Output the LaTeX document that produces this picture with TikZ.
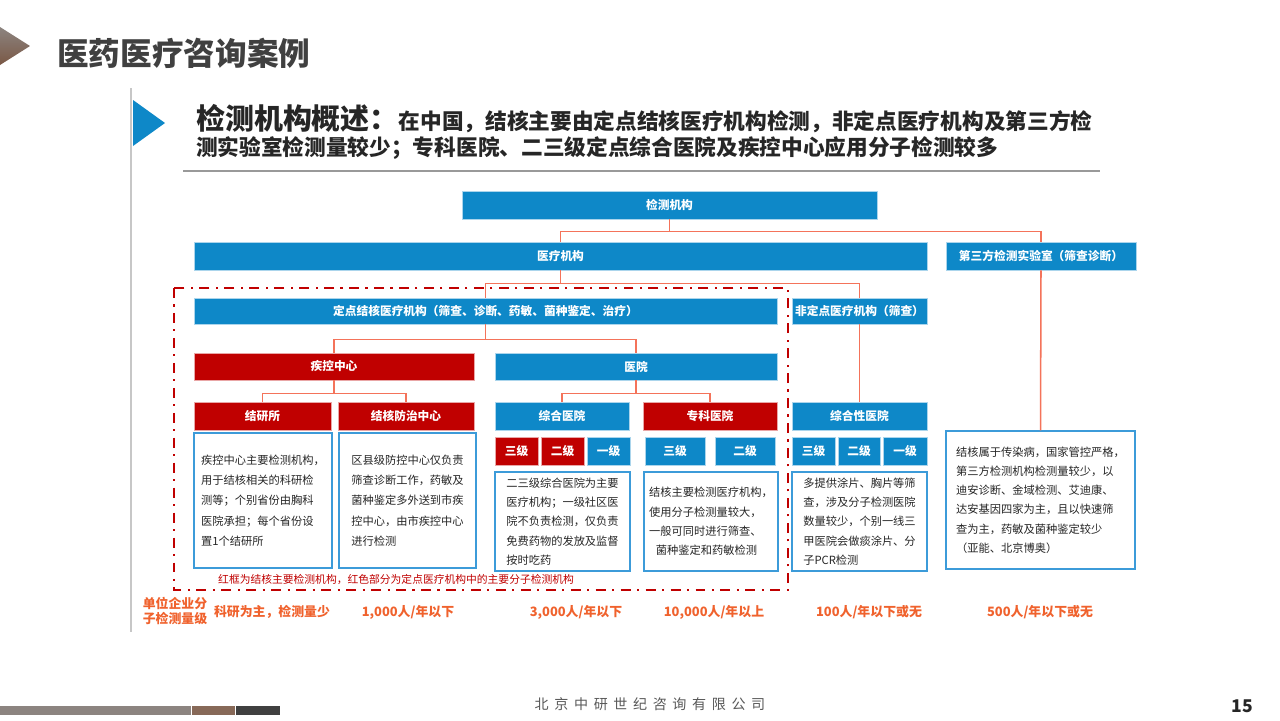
\documentclass[tikz,border=0pt]{standalone}
\usepackage{fontspec}
\setmainfont{Noto Sans CJK SC}
\newfontfamily\footfont{Noto Sans CJK SC}[LetterSpace=40]
\usepackage{xcolor}
\usepackage{tikz}

\definecolor{tbblue}{HTML}{0E88C8}
\definecolor{tbred}{HTML}{C00000}
\definecolor{linkred}{HTML}{F4735A}
\definecolor{qtyorange}{HTML}{F0622D}
\definecolor{txtgray}{HTML}{262626}
\definecolor{frameblue}{HTML}{3C9BD9}
\definecolor{chevgray}{HTML}{8C8480}
\definecolor{chevbrown}{HTML}{7A5845}

\newcommand\pxw{0.03cm}

\begin{document}
\begin{tikzpicture}[x=0.03cm, y=-0.03cm,
    sz/.style 2 args={minimum width=#1*\pxw, minimum height=#2*\pxw},
    box/.style={fill=tbblue, draw=white!65!tbblue, line width=0.6pt, inner sep=0pt, text=white, font=\bfseries\fontsize{10}{12}\selectfont},
    redbox/.style={box, fill=tbred, draw=white!65!tbred},
    textbox/.style={draw=frameblue, line width=1.1pt, inner sep=0pt, align=left, text=txtgray, font=\fontsize{9.6}{16.4}\selectfont},
    link/.style={draw=linkred, line width=1.3pt},
    qty/.style={text=qtyorange, font=\bfseries\fontsize{11}{13}\selectfont},
    redframe/.style={draw=tbred, line width=2.1pt, dash pattern=on 8.5pt off 5.5pt on 1.8pt off 5.5pt}
]
\fill[white] (0,0) rectangle (1280,720);
\useasboundingbox (0,0) rectangle (1280,720);

% page header
\shade[top color=chevgray, bottom color=chevbrown] (0,27) -- (30,46) -- (0,65) -- cycle;
\node[anchor=west, inner sep=0pt, text=black!75, font=\bfseries\fontsize{27}{30}\selectfont] (title) at (57,53) {医药医疗咨询案例};
\draw[black!22, line width=1pt] (131,88) -- (131,632);
\fill[tbblue] (133,100) -- (165,123) -- (133,146) -- cycle;
\node[anchor=west, inner sep=0pt, text=txtgray, font=\bfseries] (head1) at (196,119)
  {{\fontsize{24.7}{28}\selectfont 检测机构概述：}{\fontsize{18.5}{22}\selectfont 在中国，结核主要由定点结核医疗机构检测，非定点医疗机构及第三方检}};
\node[anchor=west, inner sep=0pt, text=txtgray, font=\bfseries\fontsize{18.5}{22}\selectfont] (head2) at (196,148)
  {测实验室检测量较少；专科医院、二三级定点综合医院及疾控中心应用分子检测较多};
\draw[black!40, line width=1.2pt] (183,171) -- (1100,171);

% tree boxes
\node[box, sz={415}{28}] (jcjg) at (669.5,205) {检测机构};
\node[box, sz={733}{28}] (yljg) at (560.5,256) {医疗机构};
\node[box, sz={190}{28}] (dsf) at (1041,256) {第三方检测实验室（筛查诊断）};
\node[box, sz={583}{26}] (ddjg) at (485.5,311) {定点结核医疗机构（筛查、诊断、药敏、菌种鉴定、治疗）};
\node[box, sz={135}{26}] (fddjg) at (859.5,311) {非定点医疗机构（筛查）};
\node[redbox, sz={280}{27}] (jkzx) at (334,366.5) {疾控中心};
\node[box, sz={282}{27}] (yy) at (636,366.5) {医院};
\node[redbox, sz={137}{28}] (jys) at (262.5,416) {结研所};
\node[redbox, sz={136}{28}] (jhfz) at (406,416) {结核防治中心};
\node[box, sz={134}{28}] (zhyy) at (562,416) {综合医院};
\node[redbox, sz={134}{28}] (zkyy) at (710,416) {专科医院};
\node[box, sz={135}{28}] (zhxyy) at (859.5,416) {综合性医院};

% hospital levels
\node[redbox, sz={43}{28}] (zh3) at (516.5,451) {三级};
\node[redbox, sz={43}{28}] (zh2) at (562.5,451) {二级};
\node[box, sz={43}{28}] (zh1) at (608.5,451) {一级};
\node[box, sz={60}{28}] (zk3) at (675,451) {三级};
\node[box, sz={60}{28}] (zk2) at (745,451) {二级};
\node[box, sz={43}{28}] (zx3) at (813.5,451) {三级};
\node[box, sz={42}{28}] (zx2) at (859,451) {二级};
\node[box, sz={44}{28}] (zx1) at (905,451) {一级};

% descriptions
\node[textbox, sz={138}{135}, font=\fontsize{9.6}{17.4}\selectfont] (tjys) at (263,500.5)
  {疾控中心主要检测机构，\\用于结核相关的科研检\\测等；个别省份由胸科\\医院承担；每个省份设\\置1个结研所};
\node[textbox, sz={137}{135}, font=\fontsize{9.6}{17.4}\selectfont] (tjhfz) at (407.5,500.5)
  {区县级防控中心仅负责\\筛查诊断工作，药敏及\\菌种鉴定多外送到市疾\\控中心，由市疾控中心\\进行检测};
\node[textbox, sz={135}{99}] (tzhyy) at (562.5,521.5)
  {二三级综合医院为主要\\医疗机构；一级社区医\\院不负责检测，仅负责\\免费药物的发放及监督\\按时吃药};
\node[textbox, sz={134}{99}] (tzkyy) at (711,521.5)
  {结核主要检测医疗机构，\\使用分子检测量较大，\\一般可同时进行筛查、\\\hspace*{0.6em}菌种鉴定和药敏检测};
\node[textbox, sz={135}{99}] (tzhxyy) at (859.5,521.5)
  {多提供涂片、胸片等筛\\查，涉及分子检测医院\\数量较少，个别一线三\\甲医院会做痰涂片、分\\子PCR检测};
\node[textbox, sz={189}{138}] (tdsf) at (1040.5,500)
  {结核属于传染病，国家管控严格，\\第三方检测机构检测量较少，以\\迪安诊断、金域检测、艾迪康、\\达安基因四家为主，且以快速筛\\查为主，药敏及菌种鉴定较少\\（亚能、北京博奥）};

% connectors
\draw[link] (jcjg.south) -- ++(0,12) -| (yljg.north);
\draw[link] (jcjg.south) -- ++(0,12) -| (dsf.north);
\draw[link] (yljg.south) -- ++(0,13) -| (ddjg.north);
\draw[link] (yljg.south) -- ++(0,13) -| (fddjg.north);
\draw[link] (ddjg.south) -- ++(0,15) -| (jkzx.north);
\draw[link] (ddjg.south) -- ++(0,15) -| (yy.north);
\draw[link] (jkzx.south) -- ++(0,13) -| (jys.north);
\draw[link] (jkzx.south) -- ++(0,13) -| (jhfz.north);
\draw[link] (yy.south) -- ++(0,13) -| (zhyy.north);
\draw[link] (yy.south) -- ++(0,13) -| (zkyy.north);
\draw[link] (fddjg.south) -- (zhxyy.north);
\draw[link] (dsf.south) -- (tdsf.north);

% red frame and its note
\draw[redframe] (174,288) rectangle (788,590);
\node[anchor=west, inner sep=0pt, text=tbred, font=\fontsize{9.2}{11}\selectfont] (framenote) at (218,580)
  {红框为结核主要检测机构，红色部分为定点医疗机构中的主要分子检测机构};

% volume row
\node[qty, align=center, font=\bfseries\fontsize{11}{13}\selectfont] (unit) at (175,611) {单位企业分\\子检测量级};
\node[qty] (q1) at (272,612) {科研为主，检测量少};
\node[qty] (q2) at (408,612) {1,000人/年以下};
\node[qty] (q3) at (576,612) {3,000人/年以下};
\node[qty] (q4) at (714,612) {10,000人/年以上};
\node[qty] (q5) at (869,612) {100人/年以下或无};
\node[qty] (q6) at (1040,612) {500人/年以下或无};

% footer
\fill[chevgray] (0,706) rectangle (191,715);
\fill[chevbrown!90!white] (192,706) rectangle (235,715);
\fill[black!75] (236,706) rectangle (280,715);
\node[text=black!65, font=\footfont\fontsize{12}{14}\selectfont] (company) at (650,704) {北京中研世纪咨询有限公司};
\node[text=txtgray, font=\bfseries\fontsize{15}{17}\selectfont] (page) at (1242,706) {15};
\end{tikzpicture}
\end{document}
